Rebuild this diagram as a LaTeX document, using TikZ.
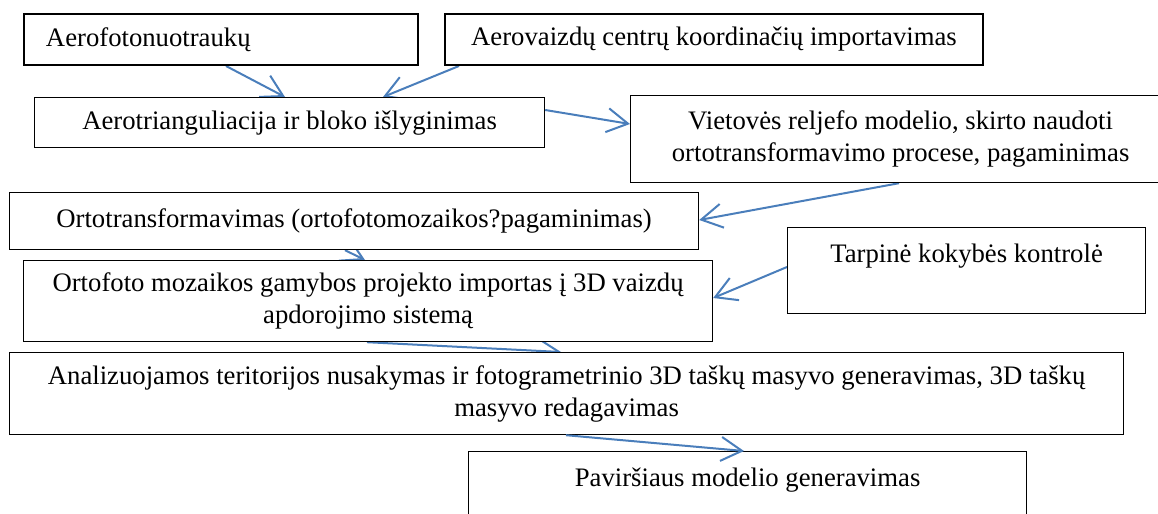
\documentclass[tikz,border=0pt]{standalone}
\usepackage{fontspec}
\setmainfont{Liberation Serif}
\usepackage{tikz}
\usetikzlibrary{arrows.meta,positioning,backgrounds}
\definecolor{linija}{HTML}{4A7EBB}
\newcommand{\tekstas}{\fontsize{13.35pt}{16pt}\selectfont}
\tikzstyle{blok} = [draw, fill=white, line width=0.6pt, inner sep=0pt, anchor=north west, align=center, font=\tekstas]
\tikzstyle{virsus} = [text height=9.35pt, text depth=17pt]
\tikzstyle{strele} = [line width=1pt, draw=linija, -{Straight Barb[length=10.5pt,width=12pt]}]

\begin{document}
\begin{tikzpicture}[x=0.5pt,y=-0.5pt]
    \useasboundingbox (0,0) rectangle (1158,514);
    \node (foto) [blok, line width=1pt, align=left, text width=175pt, inner xsep=11pt, minimum height=25.5pt] at (23,13) {Aerofotonuotraukų};
    \node (centrai) [blok, line width=1pt, minimum width=269pt, minimum height=25.5pt] at (444,13) {Aerovaizdų centrų koordinačių importavimas};
    \node (trian) [blok, minimum width=255pt, minimum height=25pt] at (34,97) {Aerotrianguliacija ir bloko išlyginimas};
    \node (reljef) [blok, minimum width=270pt, minimum height=43.5pt] at (630,95) {Vietovės reljefo modelio, skirto naudoti\\ortotransformavimo procese, pagaminimas};
    \node (orto) [blok, minimum width=344.5pt, minimum height=28.5pt] at (9,192) {Ortotransformavimas (ortofotomozaikos?pagaminimas)};
    \node (kontrole) [blok, virsus, minimum width=179pt, minimum height=43pt] at (787,227) {Tarpinė kokybės kontrolė};
    \node (importas) [blok, minimum width=344.5pt, minimum height=40.5pt] at (23,260) {Ortofoto mozaikos gamybos projekto importas į 3D vaizdų\\apdorojimo sistemą};
    \node (masyvas) [blok, minimum width=557pt, minimum height=41pt] at (9,352) {Analizuojamos teritorijos nusakymas ir fotogrametrinio 3D taškų masyvo generavimas, 3D taškų\\masyvo redagavimas};
    \node (pavirsius) [blok, virsus, minimum width=279pt, minimum height=43pt] at (468,451) {Paviršiaus modelio generavimas};

    \begin{pgfonlayer}{background}
    \draw[strele] ([xshift=101.5pt]foto.south west) -- ([xshift=125.5pt]trian.north west);
    \draw[strele] ([xshift=7.5pt]centrai.south west) -- ([xshift=174.5pt]trian.north west);
    \draw[strele] ([yshift=-6.5pt]trian.north east) -- ([yshift=-14.5pt]reljef.north west);
    \draw[strele] ([xshift=134.5pt]reljef.south west) -- ([yshift=-14pt]orto.north east);
    \draw[strele] ([xshift=168pt]orto.south west) -- ([xshift=171pt]importas.north west);
    \draw[strele] ([yshift=-20pt]kontrole.north west) -- ([yshift=-19pt]importas.north east);
    \draw[strele] ([xshift=172pt]importas.south west) -- ([xshift=276pt]masyvas.north west);
    \end{pgfonlayer}
    \draw[strele] ([xshift=278.5pt]masyvas.south west) -- ([xshift=138pt]pavirsius.north west);
\end{tikzpicture}
\end{document}
